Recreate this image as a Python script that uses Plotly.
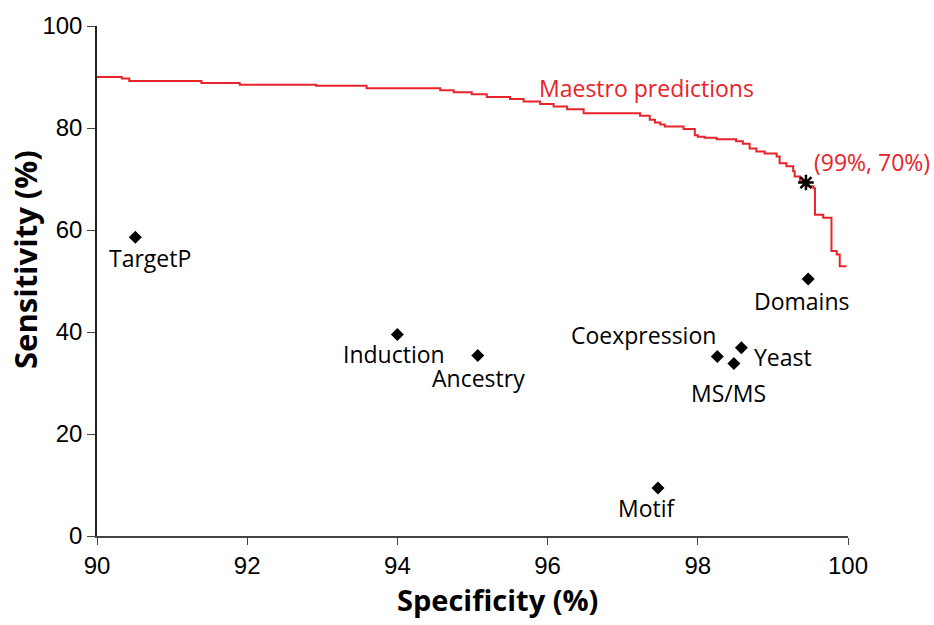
import plotly.graph_objects as go

# Maestro step curve (specificity %, sensitivity %)
curve_spec = [90.0, 90.33, 90.43, 91.39, 91.90, 92.92, 93.59, 94.57, 94.75, 94.99,
              95.19, 95.50, 95.68, 95.90, 96.08, 96.26, 96.48, 97.23, 97.36, 97.43,
              97.50, 97.56, 97.81, 97.96, 98.00, 98.09, 98.25, 98.51, 98.60, 98.69,
              98.78, 98.89, 99.05, 99.09, 99.18, 99.27, 99.29, 99.36, 99.45, 99.54,
              99.56, 99.67, 99.78, 99.85, 99.89, 99.98]
curve_sens = [90.0, 89.7, 89.2, 88.8, 88.5, 88.3, 87.8, 87.4, 87.0, 86.6,
              86.1, 85.7, 85.2, 84.7, 84.2, 83.7, 82.9, 82.4, 81.6, 81.1,
              80.7, 80.3, 79.8, 78.6, 78.3, 78.1, 77.8, 77.4, 76.9, 76.0,
              75.4, 75.0, 74.4, 73.1, 72.5, 71.5, 70.5, 69.5, 68.6, 68.2,
              63.0, 62.4, 55.9, 55.2, 52.9, 52.9]

# Individual methods
methods = ["TargetP", "Induction", "Ancestry", "Coexpression", "MS/MS", "Yeast", "Domains", "Motif"]
method_spec = [90.51, 94.0, 95.07, 98.26, 98.48, 98.58, 99.47, 97.47]
method_sens = [58.6, 39.5, 35.4, 35.2, 33.8, 36.9, 50.4, 9.4]

# Chosen operating point
op_spec = [99.44]
op_sens = [69.3]
op_label = "(99%, 70%)"
curve_label = "Maestro predictions"

x_ticks = [90, 92, 94, 96, 98, 100]
y_ticks = [0, 20, 40, 60, 80, 100]
x_title = "Specificity (%)"
y_title = "Sensitivity (%)"

RED = "#e8232a"
FONT = "Open Sans, Liberation Sans, sans-serif"
TICKFONT = "Liberation Sans, Arial, sans-serif"

fig = go.Figure()
fig.add_trace(go.Scatter(x=curve_spec, y=curve_sens, mode="lines", line_shape="hv",
                         line=dict(color=RED, width=2), showlegend=False, hoverinfo="skip"))
fig.add_trace(go.Scatter(x=method_spec, y=method_sens, mode="markers",
                         marker=dict(symbol="diamond", size=10, color="black"),
                         showlegend=False))
fig.add_trace(go.Scatter(x=op_spec, y=op_sens, mode="markers",
                         marker=dict(symbol="asterisk-open", size=13, color="black",
                                     line=dict(color="black", width=2.5)),
                         showlegend=False))

# label offsets (xanchor, xshift, yshift)
offsets = {
    "TargetP": ("center", 15, -21),
    "Induction": ("center", -3, -19),
    "Ancestry": ("center", 1, -23),
    "Coexpression": ("right", 1, 21),
    "MS/MS": ("center", -5, -29),
    "Yeast": ("left", 11, -9),
    "Domains": ("center", -7, -22),
    "Motif": ("center", -11, -20),
}
for name, xs, ys in zip(methods, method_spec, method_sens):
    xa, dx, dy = offsets[name]
    fig.add_annotation(x=xs, y=ys, text=name, showarrow=False, xanchor=xa, yanchor="middle",
                       xshift=dx, yshift=dy, font=dict(family=FONT, size=23, color="black"))

fig.add_annotation(x=op_spec[0], y=op_sens[0], text=op_label, showarrow=False,
                   xanchor="left", yanchor="middle", xshift=6, yshift=21,
                   font=dict(family=FONT, size=23, color=RED))
fig.add_annotation(x=97.32, y=87.9, text=curve_label, showarrow=False,
                   xanchor="center", yanchor="middle",
                   font=dict(family=FONT, size=23, color=RED))

# axis titles (placed as in the reference, slightly off-centre)
fig.add_annotation(xref="paper", yref="paper", x=0.533, y=-0.125, text="<b>" + x_title + "</b>",
                   showarrow=False, xanchor="center", yanchor="middle",
                   font=dict(family=FONT, size=29, color="black"))
fig.add_annotation(xref="paper", yref="paper", x=-0.096, y=0.543, text="<b>" + y_title + "</b>",
                   showarrow=False, xanchor="center", yanchor="middle", textangle=-90,
                   font=dict(family=FONT, size=31, color="black"))

fig.update_layout(
    width=934, height=625,
    margin=dict(l=97, r=86, t=24, b=89),
    paper_bgcolor="white", plot_bgcolor="white",
    font=dict(family=FONT, color="black"),
)
fig.update_xaxes(range=[90, 100], tickvals=x_ticks, ticks="outside", ticklen=7,
                 showline=True, linecolor="#444", linewidth=1.5, showgrid=False, zeroline=False,
                 tickfont=dict(family=TICKFONT, size=24))
fig.update_yaxes(range=[0, 100], tickvals=y_ticks, ticks="outside", ticklen=8,
                 showline=True, linecolor="#222", linewidth=1.5, showgrid=False, zeroline=False,
                 tickfont=dict(family=TICKFONT, size=24))

fig.write_html("out.html")
